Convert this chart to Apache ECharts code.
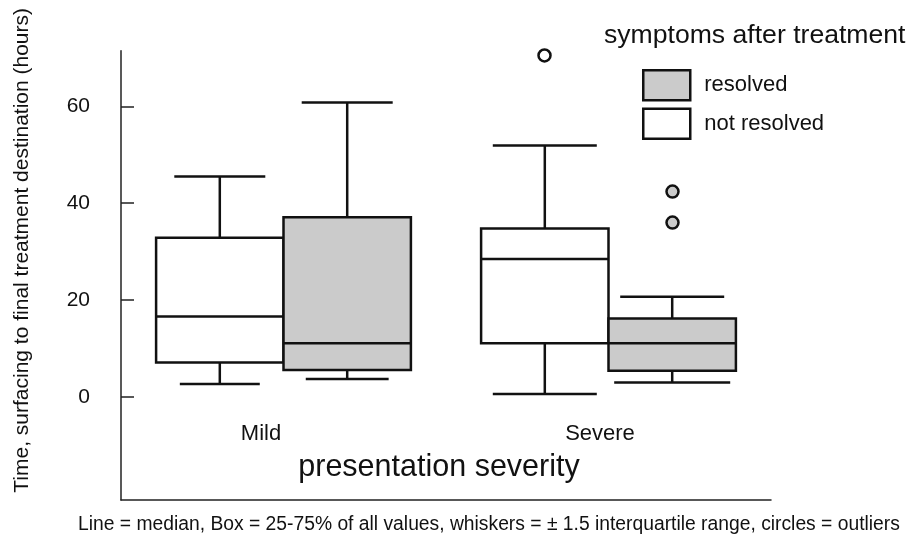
<!DOCTYPE html>
<html><head><meta charset="utf-8">
<script src="https://cdn.jsdelivr.net/npm/echarts@6/dist/echarts.min.js"></script>
<style>html,body{margin:0;padding:0;background:#fff}#c{width:909px;height:535px}</style>
</head><body><div id="c"></div>
<script>
// ---- data ----
const categories = ['Mild', 'Severe'];
// [lower whisker, Q1, median, Q3, upper whisker]
const notResolved = [[2.7, 7.1, 16.6, 32.9, 45.5], [0.6, 11.1, 28.5, 34.8, 51.9]];
const resolved    = [[3.7, 5.6, 11.1, 37.1, 60.8], [3.0, 5.4, 11.1, 16.2, 20.7]];
const notResolvedOutliers = [['Severe', 70.5]];
const resolvedOutliers    = [['Severe', 42.4], ['Severe', 36.0]];
const yTicks = [0, 20, 40, 60];

// ---- style ----
const INK = '#111';
const GREY = '#cbcbcb';
const FONT = 'Liberation Sans, Arial, Helvetica, sans-serif';
const BOX_HALF = 0.196;               // half box width, fraction of band
// whisker cap widths (fraction of band) [upper, lower] per category
const capNR = [[0.28, 0.246], [0.32, 0.32]];
const capR  = [[0.28, 0.255], [0.32, 0.357]];

function makeRender(side, fill, caps) {
  return function (params, api) {
    const ci = api.value(0);
    const band = api.size([1, 0])[0];
    const cx = api.coord([ci, 0])[0] + side * band * BOX_HALF;
    const half = band * BOX_HALF;
    const yLo = api.coord([ci, api.value(1)])[1];
    const yQ1 = api.coord([ci, api.value(2)])[1];
    const yMed = api.coord([ci, api.value(3)])[1];
    const yQ3 = api.coord([ci, api.value(4)])[1];
    const yHi = api.coord([ci, api.value(5)])[1];
    const cu = caps[ci][0] * band / 2, cl = caps[ci][1] * band / 2;
    const ls = { stroke: INK, lineWidth: 2.5, fill: null };
    return {
      type: 'group',
      children: [
        { type: 'line', shape: { x1: cx, y1: yQ3, x2: cx, y2: yHi }, style: ls },
        { type: 'line', shape: { x1: cx - cu, y1: yHi, x2: cx + cu, y2: yHi }, style: ls },
        { type: 'line', shape: { x1: cx, y1: yQ1, x2: cx, y2: yLo }, style: ls },
        { type: 'line', shape: { x1: cx - cl, y1: yLo, x2: cx + cl, y2: yLo }, style: ls },
        { type: 'rect', shape: { x: cx - half, y: yQ3, width: half * 2, height: yQ1 - yQ3 },
          style: { fill: fill, stroke: INK, lineWidth: 2.5 } },
        { type: 'line', shape: { x1: cx - half, y1: yMed, x2: cx + half, y2: yMed }, style: ls }
      ]
    };
  };
}

const chart = echarts.init(document.getElementById('c'));
chart.setOption({
  animation: false,
  backgroundColor: '#fff',
  textStyle: { fontFamily: FONT },
  title: [
    { text: 'symptoms after treatment', left: 604, top: 22, padding: 0,
      textStyle: { fontSize: 26.6, fontWeight: 'normal', color: INK, fontFamily: FONT } },
    { text: 'Line = median, Box = 25-75% of all values, whiskers = \u00b1 1.5 interquartile range, circles = outliers',
      left: 78, top: 515, padding: 0,
      textStyle: { fontSize: 19.3, fontWeight: 'normal', color: INK, fontFamily: FONT } }
  ],
  legend: {
    orient: 'vertical', left: 642, top: 69, padding: 0,
    itemWidth: 47, itemHeight: 30, itemGap: 6,
    textStyle: { fontSize: 22, color: INK, fontFamily: FONT, padding: [0, 0, 0, 9] },
    data: [
      { name: 'resolved', icon: 'rect', itemStyle: { color: GREY, borderColor: INK, borderWidth: 2.5 } },
      { name: 'not resolved', icon: 'rect', itemStyle: { color: '#fff', borderColor: INK, borderWidth: 2.5 } }
    ]
  },
  grid: { left: 121, right: 138, top: 50.7, bottom: 35, containLabel: false, outerBoundsMode: 'none' },
  xAxis: {
    type: 'category', data: categories, boundaryGap: true,
    axisLine: { onZero: false, lineStyle: { color: '#222', width: 1.5 } },
    axisTick: { show: false },
    axisLabel: {
      margin: -77, fontSize: 22, color: INK,
      formatter: v => (v === 'Mild' ? '{m|' + v + '}' : '{s|' + v + '}'),
      rich: {
        m: { fontSize: 22, color: INK, fontFamily: FONT, padding: [0, 45, 0, 0] },
        s: { fontSize: 22, color: INK, fontFamily: FONT, padding: [0, 17, 0, 0] }
      }
    },
    name: 'presentation severity', nameLocation: 'middle', nameGap: -48, nameMoveOverlap: false,
    nameTextStyle: { fontSize: 30.5, color: INK, fontFamily: FONT, padding: [0, 14, 0, 0] }
  },
  yAxis: {
    type: 'value', min: -21.26, max: 71.49,
    axisLine: { show: true, lineStyle: { color: '#222', width: 1.5 } },
    axisTick: { show: true, inside: true, length: 13, customValues: yTicks, lineStyle: { color: '#222', width: 1.5 } },
    axisLabel: { customValues: yTicks, margin: 31, fontSize: 21, color: INK },
    splitLine: { show: false },
    name: 'Time, surfacing to final treatment destination (hours)',
    nameLocation: 'middle', nameGap: 88, nameMoveOverlap: false,
    nameTextStyle: { fontSize: 21, color: INK, fontFamily: FONT, padding: [0, 0, 0, 50] }
  },
  series: [
    { name: 'not resolved', type: 'custom', renderItem: makeRender(-1, '#fff', capNR),
      encode: { x: 0, y: [1, 2, 3, 4, 5] },
      data: notResolved.map((d, i) => [i].concat(d)) },
    { name: 'resolved', type: 'custom', renderItem: makeRender(1, GREY, capR),
      encode: { x: 0, y: [1, 2, 3, 4, 5] },
      data: resolved.map((d, i) => [i].concat(d)) },
    { name: 'not resolved', type: 'scatter', data: notResolvedOutliers, symbol: 'circle', symbolSize: 12,
      symbolOffset: [-64, 0], itemStyle: { color: '#fff', borderColor: INK, borderWidth: 2.5, opacity: 1 } },
    { name: 'resolved', type: 'scatter', data: resolvedOutliers, symbol: 'circle', symbolSize: 12,
      symbolOffset: [64, 0], itemStyle: { color: GREY, borderColor: INK, borderWidth: 2.5, opacity: 1 } }
  ]
});
</script></body></html>
